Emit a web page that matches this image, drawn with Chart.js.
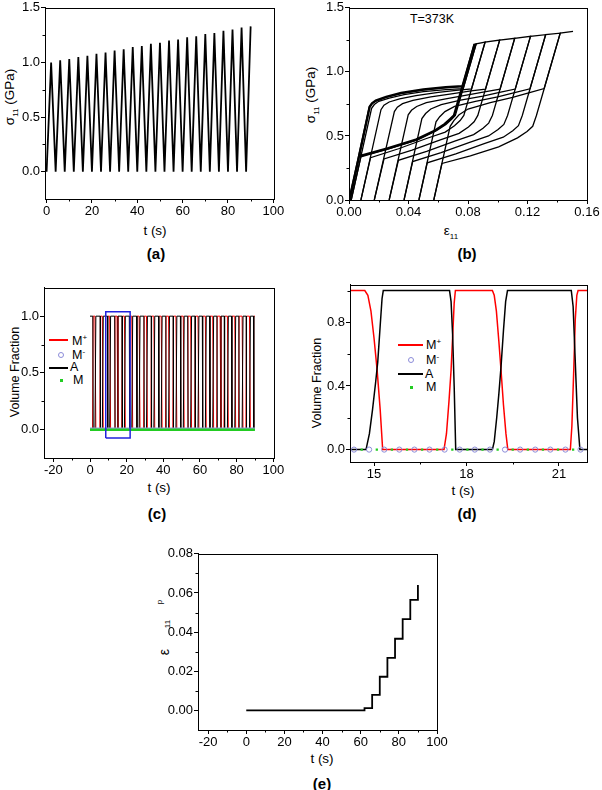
<!DOCTYPE html>
<html>
<head>
<meta charset="utf-8">
<script src="https://cdn.jsdelivr.net/npm/chart.js@4.4.1/dist/chart.umd.min.js"></script>
<style>
  body { margin: 0; width: 602px; height: 790px; background: #fff; position: relative; overflow: hidden;
         font-family: "Liberation Sans", Arial, sans-serif; color: #000; }
  canvas { position: absolute; }
  .t { position: absolute; white-space: nowrap; transform: translate(-50%, -50%); font-size: 13.5px; line-height: 1; }
  .rot { transform: translate(-50%, -50%) rotate(-90deg); }
  .lab { font-weight: bold; font-size: 15px; }
  sub, sup { font-size: 8px; line-height: 0; }
  .leg { position: absolute; font-size: 12.5px; line-height: 1; transform: translateY(-50%); white-space: nowrap; }
  .ln { position: absolute; height: 0; }
  .mk { position: absolute; box-sizing: border-box; }
</style>
</head>
<body>

<!-- (a) -->
<div class="t rot" style="left:10px;top:97px">σ<sub>11</sub> (GPa)</div>
<div class="t" style="left:155px;top:231px">t (s)</div>
<div class="t lab" style="left:156px;top:253px">(a)</div>

<!-- (b) -->
<div class="t rot" style="left:311px;top:95px">σ<sub>11</sub> (GPa)</div>
<div class="t" style="left:432px;top:19px;font-size:12.5px">T=373K</div>
<div class="t" style="left:451px;top:231px">ε<sub>11</sub></div>
<div class="t lab" style="left:467px;top:253px">(b)</div>

<!-- (c) -->
<div class="t rot" style="left:15px;top:372px;font-size:12.5px">Volume Fraction</div>
<div class="t" style="left:159px;top:488px">t (s)</div>
<div class="t lab" style="left:157px;top:513px">(c)</div>
<div class="ln" style="left:49px;top:339px;width:19px;border-top:2px solid #f00"></div>
<div class="leg" style="left:72px;top:341px">M<sup>+</sup></div>
<div class="mk" style="left:58px;top:352px;width:6px;height:6px;border:1px solid #8c8cd9;border-radius:50%"></div>
<div class="leg" style="left:72px;top:355px">M<sup>-</sup></div>
<div class="ln" style="left:49px;top:367px;width:19px;border-top:2px solid #000"></div>
<div class="leg" style="left:70px;top:367px">A</div>
<div class="mk" style="left:60px;top:379px;width:3px;height:3px;background:#22cc22"></div>
<div class="leg" style="left:73px;top:380px">M</div>

<!-- (d) -->
<div class="t rot" style="left:317px;top:383px;font-size:12.5px">Volume Fraction</div>
<div class="t" style="left:463px;top:491px">t (s)</div>
<div class="t lab" style="left:467px;top:513px">(d)</div>
<div class="ln" style="left:398px;top:344px;width:25px;border-top:2px solid #f00"></div>
<div class="leg" style="left:426px;top:345px">M<sup>+</sup></div>
<div class="mk" style="left:408px;top:357px;width:6px;height:6px;border:1px solid #8c8cd9;border-radius:50%"></div>
<div class="leg" style="left:426px;top:360px">M<sup>-</sup></div>
<div class="ln" style="left:398px;top:373px;width:25px;border-top:2px solid #000"></div>
<div class="leg" style="left:425px;top:374px">A</div>
<div class="mk" style="left:410px;top:386px;width:3px;height:3px;background:#22cc22"></div>
<div class="leg" style="left:426px;top:387px">M</div>

<!-- (e) -->
<div class="t rot" style="left:164px;top:652px;font-size:14px">ε</div>
<div class="t rot" style="left:168px;top:624px;font-size:8px">11</div>
<div class="t rot" style="left:160px;top:602px;font-size:8px">p</div>
<div class="t" style="left:322px;top:759px">t (s)</div>
<div class="t lab" style="left:322px;top:783px">(e)</div>

<script>
// ---------- (a) stress vs time ----------
const aTime = [0, 2, 4, 6, 8, 10, 12, 14, 16, 18, 20, 22, 24, 26, 28, 30, 32, 34, 36, 38, 40, 42, 44,
  46, 48, 50, 52, 54, 56, 58, 60, 62, 64, 66, 68, 70, 72, 74, 76, 78, 80, 82, 84, 86, 88, 90];
const aPeak = [1.0, 1.02, 1.03, 1.05, 1.06, 1.08, 1.09, 1.11, 1.12, 1.14, 1.15, 1.17, 1.18, 1.2,
  1.21, 1.23, 1.24, 1.26, 1.27, 1.29, 1.3, 1.32, 1.33];

// ---------- (b) stress-strain loops, [strain, stress] ----------
const bLoopEarly = [[0.0005,0],[0.0139,0.727],[0.0155,0.755],[0.018,0.775],[0.025,0.805],[0.035,0.835],
  [0.05,0.862],[0.065,0.88],[0.0763,0.889],[0.0845,1.215],[0.0706,0.66],[0.068,0.632],[0.0642,0.592],
  [0.0578,0.542],[0.045,0.472],[0.0259,0.402],[0.0068,0.342],[0.0002,0]];
const bLoop62 = [[0,0],[0.0136,0.725],[0.0152,0.752],[0.0178,0.772],[0.025,0.802],[0.035,0.832],
  [0.05,0.859],[0.065,0.877],[0.0762,0.886],[0.084,1.215],[0.0855,1.219],[0.0715,0.66],[0.069,0.63],
  [0.0652,0.59],[0.0588,0.54],[0.0462,0.47],[0.0272,0.40],[0.008,0.337],[0.0015,0]];
const bLoop66 = [[0.0015,0],[0.0152,0.715],[0.017,0.745],[0.02,0.77],[0.027,0.795],[0.037,0.822],
  [0.05,0.845],[0.065,0.862],[0.0768,0.87],[0.0855,1.219],[0.0915,1.233],[0.0772,0.66],[0.0747,0.62],
  [0.0709,0.58],[0.0647,0.53],[0.0521,0.48],[0.0333,0.40],[0.0145,0.33],[0.008,0]];
const bLoop70 = [[0.008,0],[0.0215,0.705],[0.0235,0.74],[0.027,0.765],[0.034,0.79],[0.045,0.815],
  [0.06,0.84],[0.072,0.856],[0.0824,0.868],[0.0915,1.233],[0.1013,1.248],[0.0866,0.66],[0.0841,0.61],
  [0.0803,0.57],[0.074,0.52],[0.0614,0.47],[0.0424,0.39],[0.0235,0.32],[0.017,0]];
const bLoop74 = [[0.017,0],[0.0305,0.69],[0.0325,0.725],[0.036,0.752],[0.043,0.778],[0.055,0.805],
  [0.07,0.83],[0.082,0.852],[0.0918,0.866],[0.1013,1.248],[0.1114,1.262],[0.0964,0.66],[0.0939,0.60],
  [0.0901,0.56],[0.0838,0.51],[0.0711,0.46],[0.0522,0.38],[0.0332,0.31],[0.027,0]];
const bLoop78 = [[0.027,0],[0.0398,0.665],[0.042,0.70],[0.0455,0.73],[0.052,0.76],[0.065,0.79],
  [0.08,0.82],[0.092,0.846],[0.1016,0.865],[0.1114,1.262],[0.122,1.277],[0.1066,0.66],[0.1041,0.59],
  [0.1002,0.55],[0.0938,0.50],[0.0811,0.45],[0.0619,0.37],[0.0428,0.30],[0.037,0]];
const bLoop82 = [[0.037,0],[0.049,0.635],[0.0515,0.675],[0.055,0.71],[0.062,0.745],[0.075,0.78],
  [0.09,0.81],[0.102,0.842],[0.1118,0.866],[0.122,1.277],[0.1322,1.29],[0.1165,0.66],[0.1139,0.58],
  [0.1101,0.54],[0.1037,0.49],[0.0909,0.44],[0.0718,0.36],[0.0526,0.29],[0.047,0]];
const bLoop86 = [[0.047,0],[0.0585,0.61],[0.061,0.65],[0.0645,0.69],[0.071,0.73],[0.085,0.77],
  [0.1,0.805],[0.112,0.84],[0.1217,0.868],[0.1322,1.29],[0.142,1.302],[0.126,0.66],[0.1235,0.575],
  [0.1197,0.535],[0.1133,0.485],[0.1006,0.415],[0.0816,0.345],[0.0625,0.285],[0.057,0]];
const bLoop90 = [[0.057,0],[0.068,0.575],[0.0705,0.62],[0.074,0.665],[0.08,0.71],[0.095,0.76],
  [0.11,0.80],[0.122,0.84],[0.1312,0.87],[0.142,1.302],[0.1506,1.316]];

// ---------- (c) volume fractions, whole test ----------
// start of forward (A -> M+) and reverse (M+ -> A) transformation in each cycle
const cLoad = [1.40, 5.37, 9.35, 13.33, 17.32, 21.30, 25.28, 29.26, 33.24, 37.23, 41.21, 45.20,
  49.18, 53.17, 57.15, 61.14, 65.12, 69.11, 73.10, 77.09, 81.07, 85.06, 89.05];
const cUnload = [2.70, 6.73, 10.74, 14.76, 18.78, 22.80, 26.81, 30.83, 34.84, 38.86, 42.87, 46.89,
  50.90, 54.92, 58.93, 62.94, 66.96, 70.97, 74.98, 78.99, 83.00, 87.02];
const cEnd = 90;
const cZoomBox = [[8.6,-0.073],[21.9,-0.073],[21.9,1.038],[8.6,1.038],[8.6,-0.073]];

// ---------- (d) volume fractions, zoom ----------
const dMplus = [[14.22,1],[14.7,1],[14.8,0.97],[14.9,0.87],[15.0,0.7],[15.1,0.5],[15.2,0.25],[15.28,0],
  [17.27,0],[17.35,0.1],[17.43,0.3],[17.5,0.5],[17.56,0.75],[17.6,0.92],[17.64,1],
  [18.84,1],[18.9,0.97],[18.97,0.87],[19.05,0.68],[19.12,0.5],[19.2,0.28],[19.28,0.1],[19.34,0],
  [21.37,0],[21.42,0.15],[21.48,0.5],[21.53,0.82],[21.58,0.97],[21.62,1],[21.91,1]];
const dA = [[14.22,0],[14.74,0],[14.85,0.1],[14.95,0.25],[15.05,0.42],[15.12,0.55],[15.2,0.78],[15.26,0.95],[15.3,1],
  [17.45,1],[17.5,0.93],[17.55,0.72],[17.6,0.4],[17.65,0],
  [18.84,0],[18.9,0.05],[18.98,0.2],[19.05,0.35],[19.12,0.52],[19.2,0.75],[19.27,0.93],[19.33,1],
  [21.4,1],[21.46,0.9],[21.52,0.6],[21.6,0.2],[21.68,0],[21.91,0]];
const dMminusT = [14.35, 14.84, 15.33, 15.82, 16.31, 16.8, 17.29, 17.78, 18.27, 18.76, 19.25, 19.74,
  20.23, 20.72, 21.21, 21.7];
const dMT = [14.6, 15.09, 15.58, 16.07, 16.56, 17.05, 17.54, 18.03, 18.52, 19.01, 19.5, 19.99,
  20.48, 20.97, 21.46];

// ---------- (e) plastic strain ----------
const eTime = [0, 62, 66, 70, 74, 78, 82, 86, 90];
const eStrain = [0, 0.0012, 0.0079, 0.0172, 0.0268, 0.0366, 0.0466, 0.0565, 0.064];

// ---------- drawing ----------
const FONT = 'Liberation Sans';

// box around the plot + short outward minor ticks
const framePlugin = {
  id: 'frame',
  afterDatasetsDraw(chart, args, o) {
    const { ctx, chartArea: a, scales: { x, y } } = chart;
    ctx.save();
    ctx.strokeStyle = '#000';
    ctx.lineWidth = 1;
    ctx.strokeRect(Math.round(a.left) + 0.5, Math.round(a.top) + 0.5,
      Math.round(a.right - a.left), Math.round(a.bottom - a.top));
    ctx.beginPath();
    (o.xMinor || []).forEach(v => {
      const px = Math.round(x.getPixelForValue(v)) + 0.5;
      ctx.moveTo(px, a.bottom); ctx.lineTo(px, a.bottom + 2.5);
    });
    (o.yMinor || []).forEach(v => {
      const py = Math.round(y.getPixelForValue(v)) + 0.5;
      ctx.moveTo(a.left, py); ctx.lineTo(a.left - 2.5, py);
    });
    ctx.stroke();
    ctx.restore();
  }
};

function axis(s, isX) {
  return {
    type: 'linear', min: s.min, max: s.max,
    afterBuildTicks: sc => { sc.ticks = s.major.map(v => ({ value: v })); },
    afterFit: sc => { if (isX) sc.height = 22; else sc.width = 46; },
    grid: { drawOnChartArea: false, drawTicks: true, tickLength: 4, tickColor: '#000', tickWidth: 1 },
    border: { display: true, color: '#000', width: 1 },
    ticks: { color: '#000', font: { family: FONT, size: 13 }, padding: 1, autoSkip: false,
      maxRotation: 0, callback: s.fmt }
  };
}

function line(data, color, width, extra) {
  return Object.assign({ data, showLine: true, borderColor: color, borderWidth: width,
    pointRadius: 0, fill: false, tension: 0 }, extra || {});
}

// box = chart area in page pixels
function makePanel(box, xs, ys, datasets) {
  const cv = document.createElement('canvas');
  const w = box.r - box.l + 60, h = box.b - box.t + 30;
  cv.width = w; cv.height = h;
  cv.style.left = (box.l - 46) + 'px';
  cv.style.top = (box.t - 8) + 'px';
  cv.style.width = w + 'px';
  cv.style.height = h + 'px';
  document.body.appendChild(cv);
  return new Chart(cv.getContext('2d'), {
    type: 'scatter',
    data: { datasets },
    options: {
      responsive: false, animation: false, devicePixelRatio: 1,
      layout: { padding: { left: 0, top: 8, right: 14, bottom: 0 } },
      plugins: { legend: { display: false }, tooltip: { enabled: false },
        frame: { xMinor: xs.minor, yMinor: ys.minor } },
      scales: { x: axis(xs, true), y: axis(ys, false) }
    },
    plugins: [framePlugin]
  });
}

const f0 = v => v.toFixed(0), f1 = v => v.toFixed(1), f2 = v => v.toFixed(2);
const tAxis = { major: [-20, 0, 20, 40, 60, 80, 100], minor: [-10, 10, 30, 50, 70, 90], fmt: f0 };

// (a)
makePanel({ l: 45, t: 7, r: 274, b: 199 },
  { min: -0.7, max: 100.3, major: [0, 20, 40, 60, 80, 100], minor: [10, 30, 50, 70, 90], fmt: f0 },
  { min: -0.25, max: 1.5, major: [0, 0.5, 1, 1.5], minor: [0.25, 0.75, 1.25], fmt: f1 },
  [line(aTime.map((t, i) => [t, i % 2 ? aPeak[(i - 1) / 2] : 0]), '#000', 1.8)]);

// (b)
const bLoops = [bLoop62, bLoop66, bLoop70, bLoop74, bLoop78, bLoop82, bLoop86, bLoop90];
makePanel({ l: 349, t: 7, r: 587, b: 200 },
  { min: 0, max: 0.16, major: [0, 0.04, 0.08, 0.12, 0.16], minor: [0.02, 0.06, 0.1, 0.14], fmt: f2 },
  { min: 0, max: 1.5, major: [0, 0.5, 1, 1.5], minor: [0.25, 0.75, 1.25], fmt: f1 },
  [line(bLoopEarly, '#000', 2.4)].concat(bLoops.map(l => line(l, '#000', 1.3))));

// (c)
const cMplus = [[0, 0]], cA = [[0, 1]];
cLoad.forEach((L, k) => {
  cMplus.push([L, 0], [L + 0.3, 1]);
  cA.push([L + 0.15, 1], [L + 0.35, 0]);
  if (k < cUnload.length) {
    const U = cUnload[k];
    cMplus.push([U, 1], [U + 0.5, 0]);
    cA.push([U, 0], [U + 0.5, 1]);
  }
});
cMplus.push([cEnd, 1]);
cA.push([cEnd, 0]);
makePanel({ l: 44, t: 287, r: 274, b: 458 },
  { min: -25.1, max: 100.4, major: tAxis.major, minor: tAxis.minor, fmt: f0 },
  { min: -0.25, max: 1.25, major: [0, 0.5, 1], minor: [0.25, 0.75], fmt: f1 },
  [
    line(cZoomBox, '#2222dd', 1.5),
    line([[0, 0], [cEnd, 0]], '#22cc22', 2.5),
    line([[0, 0.008], [cEnd, 0.008]], '#9a9ae0', 2.5),
    line(cA, '#000', 1),
    line(cMplus, '#ff0000', 1)
  ]);

// (d)
makePanel({ l: 350, t: 284, r: 587, b: 462 },
  { min: 14.22, max: 21.91, major: [15, 18, 21], minor: [16.5, 19.5], fmt: f0 },
  { min: -0.078, max: 1.036, major: [0, 0.4, 0.8], minor: [0.2, 0.6, 1.0], fmt: f1 },
  [
    { data: dMT.map(t => [t, 0]), pointStyle: 'rect', pointRadius: 1.6, backgroundColor: '#22cc22',
      borderColor: '#22cc22', borderWidth: 0, showLine: false },
    { data: dMminusT.map(t => [t, 0]), pointStyle: 'circle', pointRadius: 2.6, backgroundColor: 'rgba(255,255,255,0)',
      borderColor: '#8c8cd9', borderWidth: 1, showLine: false },
    line(dA, '#000', 1.5),
    line(dMplus, '#ff0000', 1.5)
  ]);

// (e)
makePanel({ l: 198, t: 553, r: 437, b: 730 },
  { min: -25.3, max: 100, major: tAxis.major, minor: tAxis.minor, fmt: f0 },
  { min: -0.01, max: 0.08, major: [0, 0.02, 0.04, 0.06, 0.08], minor: [0.01, 0.03, 0.05, 0.07], fmt: f2 },
  [line(eTime.map((t, i) => [t, eStrain[i]]), '#000', 1.8, { stepped: 'before' })]);
</script>
</body>
</html>
